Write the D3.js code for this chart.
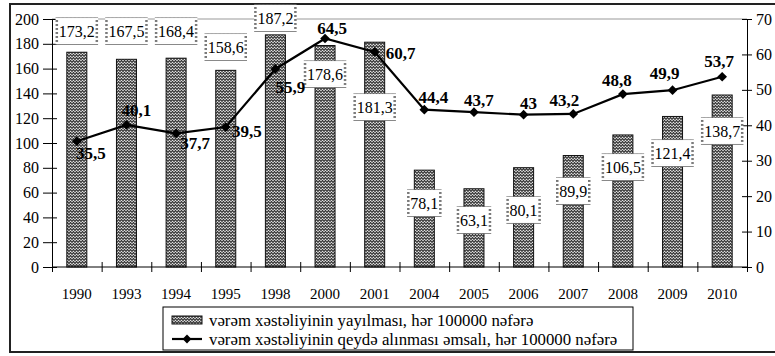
<!DOCTYPE html>
<html>
<head>
<meta charset="utf-8">
<script src="https://cdn.jsdelivr.net/npm/d3@7"></script>
<style>
  html, body { margin: 0; padding: 0; background: #fff; }
  svg { display: block; }
</style>
</head>
<body>
<svg id="chart" width="775" height="356"></svg>
<script>
// Tuberculosis in Azerbaijan: prevalence (bars) and registered incidence (line), per 100000 people
const years = ["1990", "1993", "1994", "1995", "1998", "2000", "2001", "2004", "2005", "2006", "2007", "2008", "2009", "2010"];
const prevalence = [173.2, 167.5, 168.4, 158.6, 187.2, 178.6, 181.3, 78.1, 63.1, 80.1, 89.9, 106.5, 121.4, 138.7];
const incidence = [35.5, 40.1, 37.7, 39.5, 55.9, 64.5, 60.7, 44.4, 43.7, 43, 43.2, 48.8, 49.9, 53.7];
const leftTicks = [0, 20, 40, 60, 80, 100, 120, 140, 160, 180, 200];
const rightTicks = [0, 10, 20, 30, 40, 50, 60, 70];
const legendLabels = [
  "vərəm xəstəliyinin yayılması, hər 100000 nəfərə",
  "vərəm xəstəliyinin qeydə alınması əmsalı, hər 100000 nəfərə"
];

// Hand placement of the value labels (bar labels in left-axis units, line labels as pixel offsets)
const barLabelAt = [190.3, 190.3, 190.3, 177.4, 200.8, 155.6, 129, 51.6, 37.9, 46, 61.3, 80.6, 91.9, 109.7];
const lineLabelOffset = [[14, 12], [10, -15], [19, 10], [21, 4], [15, 18], [7, -10], [26, 1],
                         [9, -13], [5, -12], [5, -12], [-9, -14], [-6, -14], [-8, -17], [-3, -16]];

const SERIF = "'Liberation Serif', 'Times New Roman', serif";
const fmt = v => String(v).replace(".", ",");

const svg = d3.select("#chart");
const plot = { left: 52, right: 747, top: 19, bottom: 267 };

const x = d3.scaleBand().domain(years).range([plot.left, plot.right]).paddingInner(0).paddingOuter(0);
const xEdge = d3.scaleLinear().domain([0, years.length]).range([plot.left, plot.right]);
const yL = d3.scaleLinear().domain([0, 200]).range([plot.bottom, plot.top]);
const yR = d3.scaleLinear().domain([0, 70]).range([plot.bottom, plot.top]);

// zigzag hatch used for the bars and the label frames
const defs = svg.append("defs");
const zig = defs.append("pattern").attr("id", "zig").attr("patternUnits", "userSpaceOnUse")
  .attr("width", 6).attr("height", 3);
zig.append("rect").attr("width", 6).attr("height", 3).attr("fill", "#e4e4e4");
zig.append("path").attr("d", "M0,2.6 L1.5,0.4 L3,2.6 L4.5,0.4 L6,2.6")
  .attr("fill", "none").attr("stroke", "#333").attr("stroke-width", 1.1);
const zigFrame = defs.append("pattern").attr("id", "zigFrame").attr("patternUnits", "userSpaceOnUse")
  .attr("width", 4).attr("height", 4);
zigFrame.append("rect").attr("width", 4).attr("height", 4).attr("fill", "#fff");
zigFrame.append("path").attr("d", "M0,3 L1,1 L2,3 L3,1 L4,3")
  .attr("fill", "none").attr("stroke", "#555").attr("stroke-width", 1);

// outer frame
svg.append("rect").attr("x", 10).attr("y", 4).attr("width", 800).attr("height", 348)
  .attr("fill", "none").attr("stroke", "#222").attr("stroke-width", 2);

// plot area top border
svg.append("line").attr("x1", plot.left).attr("x2", plot.right)
  .attr("y1", plot.top).attr("y2", plot.top).attr("stroke", "#999").attr("stroke-width", 1);

// bars
const barW = 20;
svg.append("g").selectAll("rect").data(prevalence).join("rect")
  .attr("x", (d, i) => x(years[i]) + x.bandwidth() / 2 - barW / 2)
  .attr("y", d => yL(d))
  .attr("width", barW)
  .attr("height", d => yL(0) - yL(d))
  .attr("fill", "url(#zig)")
  .attr("stroke", "#111").attr("stroke-width", 1);

// left axis
const axL = svg.append("g").attr("transform", `translate(${plot.left},0)`)
  .call(d3.axisLeft(yL).tickValues(leftTicks).tickSize(9).tickPadding(4));
axL.selectAll(".tick line").attr("x1", 5);
axL.selectAll("text").style("font-family", SERIF).style("font-size", "16px");
axL.select(".domain").attr("stroke", "#000");

// right axis
const axR = svg.append("g").attr("transform", `translate(${plot.right},0)`)
  .call(d3.axisRight(yR).tickValues(rightTicks).tickSize(5).tickPadding(4));
axR.selectAll(".tick line").attr("x1", -5);
axR.selectAll("text").style("font-family", SERIF).style("font-size", "16px");
axR.select(".domain").attr("stroke", "#000");

// category axis: tick marks on category edges, labels centred
const axB = svg.append("g").attr("transform", `translate(0,${plot.bottom})`)
  .call(d3.axisBottom(xEdge).tickValues(d3.range(years.length + 1)).tickFormat("").tickSize(5));
axB.selectAll(".tick line").attr("y1", -5);
axB.select(".domain").attr("stroke", "#000").attr("d", `M${plot.left},0H${plot.right}`);
const axC = svg.append("g").attr("transform", `translate(0,${plot.bottom})`)
  .call(d3.axisBottom(x).tickSize(0).tickPadding(21));
axC.select(".domain").remove();
axC.selectAll("text").style("font-family", SERIF).style("font-size", "15px");

// bar value labels in framed boxes
const barLabels = svg.append("g").selectAll("g").data(prevalence).join("g")
  .attr("transform", (d, i) => `translate(${x(years[i]) + x.bandwidth() / 2},${yL(barLabelAt[i])})`);
barLabels.append("text").attr("text-anchor", "middle").attr("dy", "0.35em")
  .style("font-family", SERIF).style("font-size", "16px").text(d => fmt(d));
barLabels.each(function () {
  const g = d3.select(this);
  const bb = g.select("text").node().getBBox();
  g.insert("rect", "text")
    .attr("x", bb.x - 2).attr("y", bb.y - 4)
    .attr("width", bb.width + 4).attr("height", bb.height + 8)
    .attr("fill", "#fff").attr("stroke", "url(#zigFrame)").attr("stroke-width", 2.5);
});

// incidence line
const cx = (d, i) => x(years[i]) + x.bandwidth() / 2;
svg.append("path").datum(incidence)
  .attr("d", d3.line().x(cx).y(d => yR(d)))
  .attr("fill", "none").attr("stroke", "#000").attr("stroke-width", 2.2);
const diamond = d3.symbol().type(d3.symbolDiamond2).size(60);
svg.append("g").selectAll("path").data(incidence).join("path")
  .attr("d", diamond)
  .attr("transform", (d, i) => `translate(${cx(d, i)},${yR(d)})`)
  .attr("fill", "#000");

svg.append("g").selectAll("text").data(incidence).join("text")
  .attr("x", (d, i) => cx(d, i) + lineLabelOffset[i][0])
  .attr("y", (d, i) => yR(d) + lineLabelOffset[i][1])
  .attr("dy", "0.35em").attr("text-anchor", "middle")
  .style("font-family", SERIF).style("font-size", "17px").style("font-weight", "bold")
  .text(d => fmt(d));

// legend
const lg = svg.append("g");
lg.append("rect").attr("x", 163).attr("y", 307).attr("width", 470).attr("height", 43)
  .attr("fill", "#fff").attr("stroke", "#000").attr("stroke-width", 1);
lg.append("rect").attr("x", 172).attr("y", 316).attr("width", 30).attr("height", 8)
  .attr("fill", "url(#zig)").attr("stroke", "#111").attr("stroke-width", 1);
lg.append("line").attr("x1", 172).attr("x2", 202).attr("y1", 339).attr("y2", 339)
  .attr("stroke", "#000").attr("stroke-width", 2.2);
lg.append("path").attr("d", d3.symbol().type(d3.symbolDiamond2).size(50))
  .attr("transform", "translate(187,339)").attr("fill", "#000");
lg.selectAll("text.lbl").data(legendLabels).join("text").attr("class", "lbl")
  .attr("x", 209).attr("y", (d, i) => 320 + i * 19).attr("dy", "0.35em")
  .style("font-family", SERIF).style("font-size", "16.8px")
  .text(d => d);
</script>
</body>
</html>
